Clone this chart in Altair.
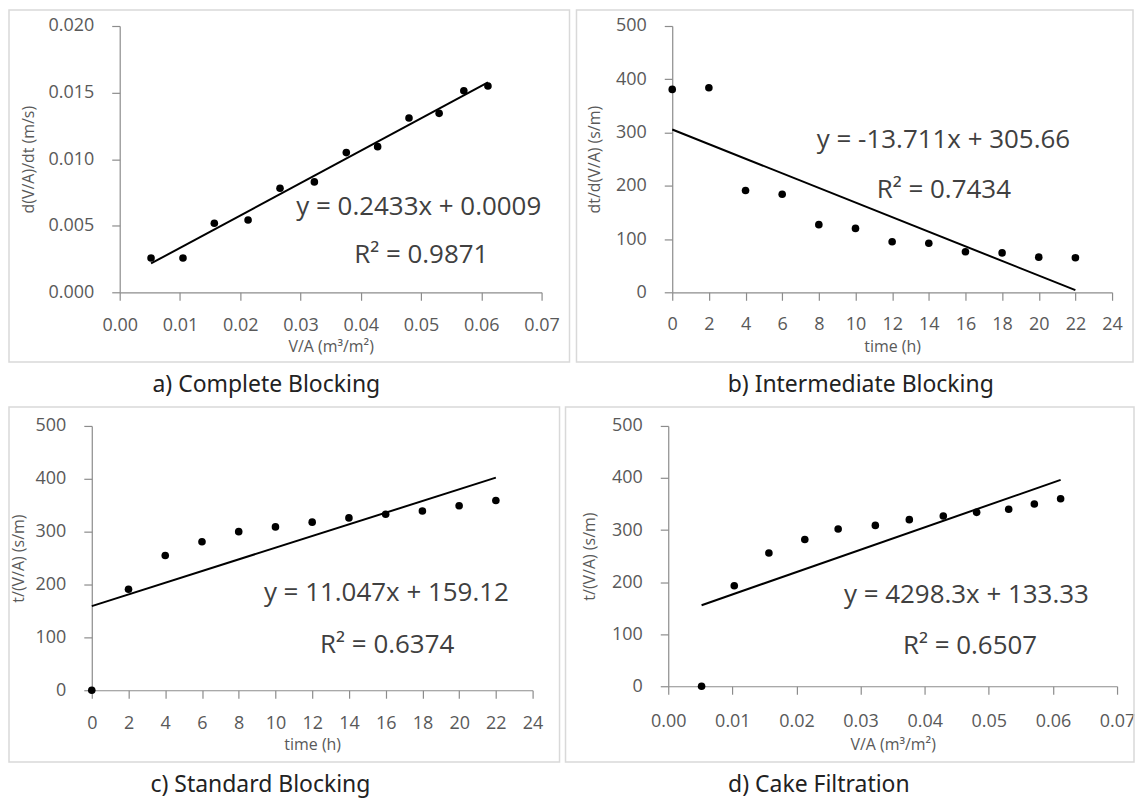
import altair as alt
import pandas as pd

# ---------------- data ----------------
va = [0.0052, 0.0105, 0.0157, 0.0213, 0.0266, 0.0323, 0.0376, 0.0428, 0.0480, 0.0530, 0.0571, 0.0611]
flux_a = [0.00258, 0.00258, 0.00518, 0.00543, 0.00781, 0.00829, 0.01049, 0.01094, 0.01309, 0.01344, 0.01514, 0.01549]
time_h = [0, 2, 4, 6, 8, 10, 12, 14, 16, 18, 20, 22]
dtdv_b = [381, 384, 191, 184, 127, 120, 95, 92, 76, 74, 66, 65]
tva_c = [0, 191, 255, 281, 300, 309, 318, 326, 333, 339, 349, 359]
va_d = [0.0052, 0.0103, 0.0157, 0.0213, 0.0265, 0.0323, 0.0376, 0.0429, 0.0481, 0.0531, 0.0571, 0.0612]
tva_d = [0, 193, 256, 282, 302, 309, 320, 327, 334, 340, 350, 360]

slopes = [0.2433, -13.711, 11.047, 4298.3]
intercepts = [0.0009, 305.66, 159.12, 133.33]
eq_texts = ["y = 0.2433x + 0.0009", "y = -13.711x + 305.66", "y = 11.047x + 159.12", "y = 4298.3x + 133.33"]
r2_texts = ["R² = 0.9871", "R² = 0.7434", "R² = 0.6374", "R² = 0.6507"]
eq_x = [0.0293, 7.89, 9.37, 0.0274]
eq_y = [0.00644, 285, 184, 176]
r2_x = [0.0389, 11.16, 12.43, 0.0366]
r2_y = [0.00277, 192, 86, 77]
captions = ["a) Complete Blocking", "b) Intermediate Blocking", "c) Standard Blocking", "d) Cake Filtration"]
y_titles = ["d(V/A)/dt (m/s)", "dt/d(V/A) (s/m)", "t/(V/A) (s/m)", "t/(V/A) (s/m)"]
x_titles = ["V/A (m³/m²)", "time (h)", "time (h)", "V/A (m³/m²)"]
va_ticks = [0.0, 0.01, 0.02, 0.03, 0.04, 0.05, 0.06, 0.07]
time_ticks = [0, 2, 4, 6, 8, 10, 12, 14, 16, 18, 20, 22, 24]
flux_ticks = [0.0, 0.005, 0.010, 0.015, 0.020]
res_ticks = [0, 100, 200, 300, 400, 500]

AX = "#8c8c8c"
LAB = "#595959"
FONT = "Open Sans"


def panel(i, xs, ys, xdom, ydom, xticks, yticks, xfmt, yfmt, w, h, box, ytx, xty, dx, s=0):
    pts = pd.DataFrame({"x": xs, "y": ys})
    x0, x1 = min(xs), max(xs)
    line = pd.DataFrame({"x": [x0, x1],
                         "y": [slopes[i] * x0 + intercepts[i], slopes[i] * x1 + intercepts[i]]})
    ann = pd.DataFrame({"x": [eq_x[i], r2_x[i]], "y": [eq_y[i], r2_y[i]],
                        "t": [eq_texts[i], r2_texts[i]]})

    if s:
        xsc = alt.Scale(domain=xdom, nice=False, zero=False, range=[-s, w - s])
    else:
        xsc = alt.Scale(domain=xdom, nice=False, zero=False)
    ysc = alt.Scale(domain=ydom, nice=False, zero=False)
    xax = alt.Axis(values=xticks, format=xfmt, title=x_titles[i], grid=False,
                   labelBaseline="middle", labelPadding=xty[0] - 8, titleY=xty[1],
                   titleBaseline="middle", labelOverlap=False, labelFlush=False)
    yax = alt.Axis(values=yticks, format=yfmt, title=y_titles[i], grid=False, offset=s,
                   labelPadding=18, titleX=ytx, titleBaseline="middle", labelOverlap=False)
    X = alt.X("x:Q", scale=xsc, axis=xax)
    Y = alt.Y("y:Q", scale=ysc, axis=yax)

    frame = alt.Chart(pd.DataFrame({"k": [0]})).mark_rect(
        fill="white", fillOpacity=0, stroke="#d9d9d9", strokeWidth=1.5
    ).encode(x=alt.value(box[0] - s), x2=alt.value(w - s + box[1]),
             y=alt.value(box[2]), y2=alt.value(h + box[3]))

    trend = alt.Chart(line).mark_line(color="black", strokeWidth=2).encode(x=X, y=Y)
    base_pts = alt.Chart(pts).mark_circle(size=58, color="black", opacity=1).encode(x=X, y=Y)
    txt = alt.Chart(ann).mark_text(align="left", baseline="middle", fontSize=26,
                                   font=FONT, color="#404040").encode(x=X, y=Y, text="t:N")
    return alt.layer(frame, trend, base_pts, txt).properties(
        width=w - s, height=h,
        title=alt.TitleParams(captions[i], orient="bottom", anchor="middle", frame="bounds",
                              fontSize=23, font="Noto Sans", fontWeight="normal",
                              color="#222222", offset=11, dx=dx, baseline="top"),
    )


pa = panel(0, va, flux_a, [0, 0.07], [0, 0.02], va_ticks, flux_ticks, ".2f", ".3f",
           423, 267, (-111, 28, -16, 70), -91, (33, 54), -23)
pb = panel(1, time_h, dtdv_b, [0, 24], [0, 500], time_ticks, res_ticks, "d", "d",
           441, 267, (-96, 21, -16, 70), -78, (32, 54), 6)
pc = panel(2, time_h, tva_c, [0, 24], [0, 500], time_ticks, res_ticks, "d", "d",
           442, 265, (-83, 27, -19, 72), -73, (33, 54), -24, s=28)
pd_ = panel(3, va_d, tva_d, [0, 0.07], [0, 500], va_ticks, res_ticks, ".2f", "d",
            450, 261, (-103, 17, -19, 76), -79, (35, 58), -31)

chart = alt.vconcat(
    alt.hconcat(pa, pb, spacing=5),
    alt.hconcat(pc, pd_, spacing=4),
    spacing=9,
).properties(padding=0, background="white").configure_view(stroke=None).configure_axis(
    domainColor=AX, tickColor=AX, tickSize=8, labelColor=LAB, titleColor=LAB,
    labelFont=FONT, labelFontSize=18, titleFont=FONT, titleFontSize=16,
    titleFontWeight="normal", domainWidth=1.2, tickWidth=1.2, labelOverlap=False,
)

chart.save("out.html", embed_options={"renderer": "svg", "actions": False})
